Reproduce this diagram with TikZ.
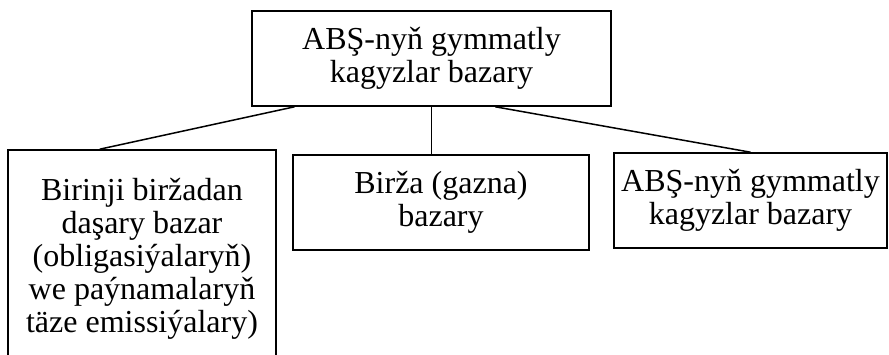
\documentclass[tikz,border=0pt]{standalone}
\usepackage{fontspec}
\setmainfont{Liberation Serif}
\usetikzlibrary{calc}
\tikzset{
	box/.style={draw, line width=1.6pt, align=center, inner sep=0pt, font=\fontsize{32}{33}\selectfont},
	link/.style={line width=1.5pt}
}
\begin{document}
\begin{tikzpicture}[x=1pt,y=-1pt]
		\clip (0,0) rectangle (889,354);
		
		\node[box, minimum width=359pt, minimum height=95pt] (bazar) at (431.5,58.5) {ABŞ-nyň gymmatly\\kagyzlar bazary};
		
		\node[box, minimum width=268pt, minimum height=218pt] (birinji) at (142,259) {Birinji biržadan\\daşary bazar\\(obligasiýalaryň)\\we paýnamalaryň\\täze emissiýalary)};
		\node[box, minimum width=296pt, minimum height=95pt] (birza) at (441,202.5) {Birža (gazna)\\bazary};
		\node[box, minimum width=273pt, minimum height=95pt] (abs) at (750.5,200.5) {ABŞ-nyň gymmatly\\kagyzlar bazary};
		
		\draw[link] ($(bazar.south west)!0.12!(bazar.south east)$) -- ($(birinji.north west)!0.343!(birinji.north east)$);
		\draw[link] (bazar.south) -- (bazar.south |- birza.north);
		\draw[link] ($(bazar.south west)!0.677!(bazar.south east)$) -- (abs.north);
	\end{tikzpicture}
\end{document}
